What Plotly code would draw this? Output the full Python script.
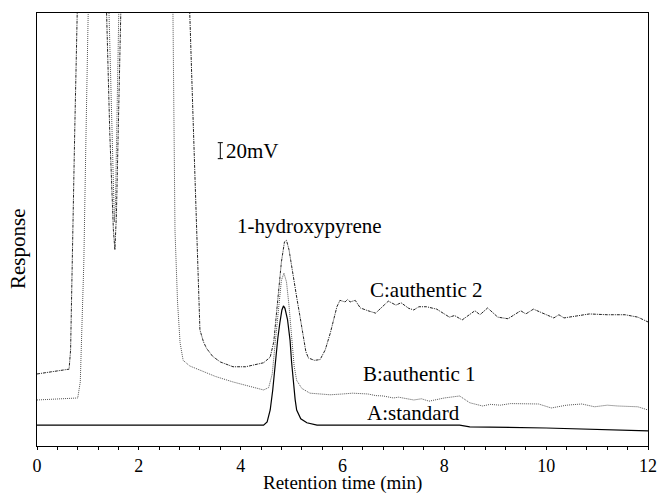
import plotly.graph_objects as go

# Trace A: standard (retention time in min, response in mV)
a_time = [0, 4.45, 4.52, 4.58, 4.63, 4.68, 4.73, 4.77, 4.81, 4.84, 4.87, 4.92, 4.97, 5.0, 5.03,
          5.07, 5.1, 5.18, 5.3, 5.5, 8.3, 8.5, 10.0, 11.0, 11.5, 12]
a_resp = [26, 26, 30, 45, 70, 104, 135, 154, 170, 175, 172, 158, 132, 105, 82,
          58, 45, 34, 29, 26, 26, 24, 22.5, 20.6, 19.5, 19]

# Trace B: authentic 1
b_time = [0, 0.8, 0.85, 0.88, 0.92, 0.96, 1.0, 1.05, 1.35, 1.41, 1.46, 1.5, 1.52, 1.54, 1.57, 1.6,
          1.65, 2.6, 2.67, 2.71, 2.76, 2.81, 2.87, 3.0, 3.2, 3.5, 3.85, 4.2, 4.45, 4.55, 4.62,
          4.68, 4.75, 4.8, 4.85, 4.9, 4.95, 5.0, 5.05, 5.1, 5.2, 5.36, 5.76, 6.0, 6.2, 6.5, 6.65,
          6.8, 7.0, 7.1, 7.4, 7.55, 7.7, 8.0, 8.3, 8.5, 8.75, 8.9, 9.1, 9.3, 9.55, 9.85, 10.1,
          10.4, 10.7, 10.95, 11.2, 11.4, 11.8, 12]
b_resp = [57.5, 60, 80, 150, 230, 380, 541, 700, 700, 541, 400, 300, 280, 300, 420, 541,
          700, 700, 541, 270, 180, 129, 107, 100, 95, 87, 80, 74, 70, 73, 90,
          130, 180, 207, 216, 205, 175, 135, 100, 82, 72, 66, 64, 65, 66, 65, 63,
          62.5, 60, 61, 57.5, 59, 56, 60, 62.5, 54, 50, 52, 51, 53, 52.5, 52.5, 47.5,
          51, 52.5, 49, 51, 50, 49, 45]

# Trace C: authentic 2
c_time = [0, 0.3, 0.63, 0.66, 0.69, 0.74, 0.79, 0.85, 1.3, 1.37, 1.43, 1.5, 1.53, 1.56, 1.6, 1.63,
          1.7, 2.9, 3.0, 3.07, 3.14, 3.2, 3.27, 3.33, 3.45, 3.6, 3.85, 4.1, 4.45, 4.58, 4.65,
          4.72, 4.8, 4.86, 4.9, 4.95, 5.02, 5.1, 5.17, 5.23, 5.28, 5.33, 5.45, 5.56, 5.66, 5.76,
          5.89, 5.95, 6.05, 6.1, 6.15, 6.25, 6.35, 6.5, 6.65, 6.9, 7.05, 7.15, 7.3, 7.4, 7.5,
          7.65, 7.85, 8.1, 8.2, 8.35, 8.6, 8.7, 8.85, 9.05, 9.25, 9.5, 9.6, 9.75, 9.95, 10.15,
          10.25, 10.35, 10.6, 10.85, 11.2, 11.55, 11.8, 12]
c_resp = [90, 93, 96, 120, 233, 390, 541, 700, 700, 541, 390, 270, 245, 290, 420, 541,
          700, 700, 541, 400, 270, 145, 130, 122, 112, 105, 99, 99, 104, 111, 130,
          175, 230, 255, 257, 245, 215, 186, 160, 136, 118, 110, 107, 108, 120, 141,
          174, 182, 180, 183, 180, 182, 172.5, 169, 166, 181, 176, 179, 172, 170, 174,
          174, 171, 161, 163, 157.5, 169, 164, 172.5, 161, 159, 169, 165, 171, 166, 160,
          164, 160, 162.5, 165, 164, 164, 161, 155]

x_ticks = [0, 2, 4, 6, 8, 10, 12]
serif = "Liberation Serif"

fig = go.Figure()
fig.add_trace(go.Scatter(x=c_time, y=c_resp, mode="lines", name="C:authentic 2",
                         line=dict(color="#222222", width=1, dash="3px,1px,1px,1px")))
fig.add_trace(go.Scatter(x=b_time, y=b_resp, mode="lines", name="B:authentic 1",
                         line=dict(color="#555555", width=1, dash="1px,1px")))
fig.add_trace(go.Scatter(x=a_time, y=a_resp, mode="lines", name="A:standard",
                         line=dict(color="black", width=1.2)))

# 20 mV scale bar
bar_x, bar_y0, bar_y1, cap = 3.6, 359, 379, 0.05
fig.add_shape(type="line", x0=bar_x, x1=bar_x, y0=bar_y0, y1=bar_y1, line=dict(color="black", width=1))
fig.add_shape(type="line", x0=bar_x - cap, x1=bar_x + cap, y0=bar_y0, y1=bar_y0, line=dict(color="black", width=1))
fig.add_shape(type="line", x0=bar_x - cap, x1=bar_x + cap, y0=bar_y1, y1=bar_y1, line=dict(color="black", width=1))

ann_font = dict(family=serif, size=21, color="black")
fig.add_annotation(x=3.68, y=369, text="20mV", showarrow=False, xanchor="left", font=ann_font)
fig.add_annotation(x=5.36, y=275, text="1-hydroxypyrene", showarrow=False, font=ann_font)
fig.add_annotation(x=7.64, y=195, text="C:authentic 2", showarrow=False, font=ann_font)
fig.add_annotation(x=7.52, y=90, text="B:authentic 1", showarrow=False, font=ann_font)
fig.add_annotation(x=7.39, y=41, text="A:standard", showarrow=False, font=ann_font)

# axis titles
fig.add_annotation(x=0.5, y=-0.085, xref="paper", yref="paper", text="Retention time (min)",
                   showarrow=False, xanchor="center", yanchor="middle",
                   font=dict(family=serif, size=19, color="black"))
fig.add_annotation(x=-0.031, y=0.455, xref="paper", yref="paper", text="Response", textangle=-90,
                   showarrow=False, xanchor="center", yanchor="middle",
                   font=dict(family=serif, size=21, color="black"))

fig.update_layout(
    width=662, height=494,
    margin=dict(l=37, r=14, t=13, b=48, autoexpand=False),
    paper_bgcolor="white", plot_bgcolor="white",
    showlegend=False,
    font=dict(family=serif, size=21, color="black"),
)
fig.update_xaxes(
    range=[0, 12], tickvals=x_ticks, ticks="outside", ticklen=3, tickcolor="black",
    showline=True, linecolor="black", linewidth=1, mirror=True, showgrid=False, zeroline=False,
    minor=dict(dtick=0.4, ticks="outside", ticklen=3, tickcolor="black", showgrid=False),
    tickfont=dict(family=serif, size=18), automargin=False,
)
fig.update_yaxes(
    range=[0, 541], showticklabels=False, ticks="", showgrid=False, zeroline=False,
    showline=True, linecolor="black", linewidth=1, mirror=True, automargin=False,
)

fig.write_html("out.html", config={"displayModeBar": False},
               post_script="document.body.style.margin='0';document.body.style.overflow='hidden';")
